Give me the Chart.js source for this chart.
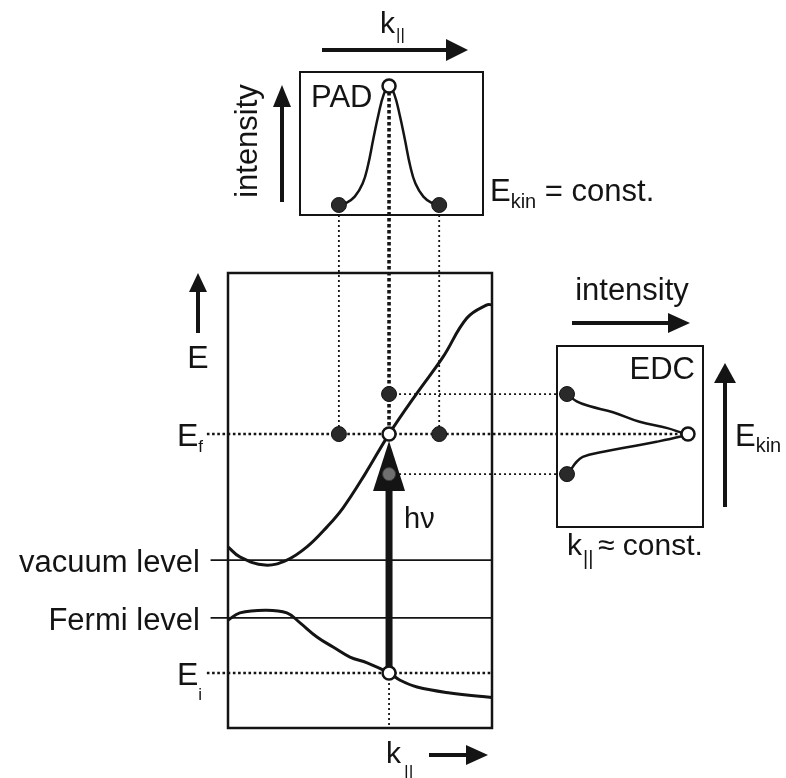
<!DOCTYPE html>
<html>
<head>
<meta charset="utf-8">
<title>ARPES: band structure, PAD and EDC</title>
<script src="https://cdn.jsdelivr.net/npm/chart.js@4.4.1/dist/chart.umd.min.js"></script>
<style>
  html, body { margin: 0; padding: 0; background: #fff; }
  canvas { display: block; }
</style>
</head>
<body>
<canvas id="arpes" width="786" height="778"></canvas>
<script>
// ---------------------------------------------------------------------------
// Band diagram, in panel units: k|| runs 0..10, E runs 0..10 across the frame
// ---------------------------------------------------------------------------
const upperBandK = [0, 0.45, 1.4, 2.23, 2.99, 3.75, 4.36, 5.19, 6.1, 7.16, 8.14, 9.05, 9.81, 10];
const upperBandE = [3.98, 3.76, 3.58, 3.69, 3.98, 4.42, 4.84, 5.58, 6.46, 7.36, 8.15, 9.01, 9.30, 9.30];

const lowerBandK = [0, 0.45, 1.4, 2.23, 2.73, 3.37, 3.98, 4.62, 5.27, 6.1, 6.52, 7.16, 8.41, 10];
const lowerBandE = [2.37, 2.53, 2.59, 2.53, 2.31, 2.00, 1.78, 1.56, 1.43, 1.21, 1.05, 0.90, 0.77, 0.67];

// reference levels drawn as solid lines
const levelNames = ['vacuum level', 'Fermi level'];
const levelE     = [3.69, 2.42];

// energies and momenta of the marked states
const E_final   = 6.46;   // E_f
const E_initial = 1.21;   // E_i
const E_above   = 7.34;   // neighbouring energy above E_f
const E_below   = 5.58;   // neighbouring energy below E_f
const kMarks    = [4.2, 6.1, 8.0];   // k|| of the three PAD samples
const k0        = 6.1;               // k|| of the direct transition

// ---------------------------------------------------------------------------
// PAD: intensity vs k|| at constant E_kin
// ---------------------------------------------------------------------------
const padK = [4.2, 4.5, 4.8, 5.1, 5.3, 5.5, 5.7, 5.9, 6.1, 6.3, 6.5, 6.7, 6.9, 7.1, 7.4, 7.7, 8.0];
const padI = [0, 0.02, 0.07, 0.18, 0.33, 0.55, 0.76, 0.93, 1, 0.93, 0.76, 0.55, 0.33, 0.18, 0.07, 0.02, 0];

// ---------------------------------------------------------------------------
// EDC: intensity vs E at constant k||
// ---------------------------------------------------------------------------
const edcE = [7.34, 7.18, 7.07, 6.94, 6.73, 6.59, 6.48, 6.46, 6.40, 6.29, 6.18, 6.07, 5.96, 5.82, 5.63, 5.58];
const edcI = [0, 0.08, 0.19, 0.38, 0.60, 0.83, 0.96, 1.0, 0.93, 0.74, 0.52, 0.30, 0.13, 0.07, 0.02, 0];

// ---------------------------------------------------------------------------
// Page layout (pixels)
// ---------------------------------------------------------------------------
const W = 786, H = 778;
const PANEL   = { left: 228, right: 492, top: 273, bottom: 728 };
const PAD_BOX = { left: 300, top: 72, right: 483, bottom: 215 };
const EDC_BOX = { left: 557, top: 346, right: 703, bottom: 527 };
const PAD_ROW  = { zero: 205, one: 86 };   // pixel rows of PAD intensity 0 and 1
const EDC_COL  = { zero: 567, one: 688 };  // pixel columns of EDC intensity 0 and 1
const GUIDE_START_K = -0.8;                // left end of the dotted E_f / E_i lines
const LEVEL_START_K = -0.66;               // left end of the level lines

const INK  = '#141414';
const DOT  = '#2a2a2a';
const FONT = '"Liberation Sans", Arial, Helvetica, sans-serif';

// linear map through two (pixel, value) pairs -> value at any pixel
const lin = (p0, v0, p1, v1) => p => v0 + (p - p0) * (v1 - v0) / (p1 - p0);
const kAt = lin(PANEL.left, 0, PANEL.right, 10);
const eAt = lin(PANEL.bottom, 0, PANEL.top, 10);
const iAt = lin(PAD_ROW.zero, 0, PAD_ROW.one, 1);
const jAt = lin(EDC_COL.zero, 0, EDC_COL.one, 1);

const pts = (xs, ys) => xs.map((x, i) => ({ x, y: ys[i] }));

// EDC split at its maximum into two halves, each ordered by rising intensity
const edcPeak = edcI.indexOf(Math.max(...edcI));
const edcUpper = pts(edcI.slice(0, edcPeak + 1), edcE.slice(0, edcPeak + 1));
const edcLower = pts(edcI.slice(edcPeak), edcE.slice(edcPeak)).reverse();

const curve = (label, data, xAxisID, yAxisID, width, order) => ({
  label, data, xAxisID, yAxisID, order,
  borderColor: INK, borderWidth: width, pointRadius: 0,
  tension: 0.4, fill: false
});
const marks = (label, data, xAxisID, yAxisID, open, order, role) => ({
  label, data, xAxisID, yAxisID, order, role, showLine: false,
  pointStyle: 'circle',
  pointRadius: open ? 6.5 : 7.5,
  pointBackgroundColor: open ? '#ffffff' : DOT,
  pointBorderColor: INK,
  pointBorderWidth: open ? 2.5 : 1
});

const datasets = [
  curve('upper band', pts(upperBandK, upperBandE), 'k', 'E', 3, 10),
  curve('lower band', pts(lowerBandK, lowerBandE), 'k', 'E', 3, 11),
  curve('PAD', pts(padK, padI), 'k', 'I', 2.5, 12),
  curve('EDC upper', edcUpper, 'J', 'E', 2.5, 13),
  curve('EDC lower', edcLower, 'J', 'E', 2.5, 14),
  ...levelE.map((e, i) => ({
    label: levelNames[i], xAxisID: 'k', yAxisID: 'E', order: 20 + i,
    data: [{ x: LEVEL_START_K, y: e }, { x: 10, y: e }],
    borderColor: INK, borderWidth: 1.6, pointRadius: 0, fill: false
  })),
  marks('band samples', [
    { x: kMarks[0], y: E_final }, { x: kMarks[2], y: E_final }, { x: k0, y: E_above }
  ], 'k', 'E', false, 6, 'aboveArrow'),
  marks('PAD samples', [{ x: kMarks[0], y: 0 }, { x: kMarks[2], y: 0 }], 'k', 'I', false, 5),
  marks('EDC samples', [{ x: 0, y: E_above }, { x: 0, y: E_below }], 'J', 'E', false, 5),
  marks('transition states', [{ x: k0, y: E_final }, { x: k0, y: E_initial }], 'k', 'E', true, 3),
  marks('PAD maximum', [{ x: k0, y: 1 }], 'k', 'I', true, 3),
  marks('EDC maximum', [{ x: 1, y: E_final }], 'J', 'E', true, 3),
  Object.assign(marks('state below E_f', [{ x: k0, y: E_below }], 'k', 'E', false, 1), {
    pointBackgroundColor: '#6f6f6f', pointBorderColor: '#3a3a3a', pointRadius: 6.5
  })
];

// ---------------------------------------------------------------------------
// drawing helpers
// ---------------------------------------------------------------------------
function text(ctx, str, x, y, size, align) {
  ctx.font = size + 'px ' + FONT;
  ctx.textAlign = align || 'left';
  ctx.textBaseline = 'alphabetic';
  ctx.fillText(str, x, y);
  return ctx.measureText(str).width;
}
function subscripted(ctx, x, y, main, sub, size, subSize, drop, gap) {
  const w = text(ctx, main, x, y, size);
  return w + (gap || 0) + text(ctx, sub, x + w + (gap || 0), y + drop, subSize);
}
function arrow(ctx, x1, y1, x2, y2, width, headLen, headHalf) {
  const a = Math.atan2(y2 - y1, x2 - x1), c = Math.cos(a), s = Math.sin(a);
  const bx = x2 - c * headLen, by = y2 - s * headLen;
  ctx.lineWidth = width;
  ctx.lineCap = 'butt';
  ctx.beginPath(); ctx.moveTo(x1, y1); ctx.lineTo(bx + c, by + s); ctx.stroke();
  ctx.beginPath();
  ctx.moveTo(x2, y2);
  ctx.lineTo(bx - s * headHalf, by + c * headHalf);
  ctx.lineTo(bx + s * headHalf, by - c * headHalf);
  ctx.closePath(); ctx.fill();
}
function dotted(ctx, x1, y1, x2, y2, width, dash) {
  ctx.save();
  ctx.lineWidth = width;
  ctx.setLineDash(dash);
  ctx.lineCap = 'butt';
  ctx.beginPath(); ctx.moveTo(x1, y1); ctx.lineTo(x2, y2); ctx.stroke();
  ctx.restore();
}

const THIN = [1.8, [2, 3]];
const MID  = [2.6, [2.6, 2.6]];
const BOLD = [3.6, [3.4, 2.6]];

const diagram = {
  id: 'diagram',
  beforeDatasetsDraw(chart) {
    const { ctx } = chart;
    const sk = v => chart.scales.k.getPixelForValue(v);
    const se = v => chart.scales.E.getPixelForValue(v);
    const si = v => chart.scales.I.getPixelForValue(v);
    const sj = v => chart.scales.J.getPixelForValue(v);
    ctx.save();
    ctx.strokeStyle = INK;
    // PAD samples projected down to E_f
    dotted(ctx, sk(kMarks[0]), si(0), sk(kMarks[0]), se(E_final), ...THIN);
    dotted(ctx, sk(kMarks[2]), si(0), sk(kMarks[2]), se(E_final), ...THIN);
    dotted(ctx, sk(k0), si(1), sk(k0), se(E_final), ...BOLD);
    dotted(ctx, sk(k0), se(E_initial), sk(k0), se(0), ...THIN);
    // energies carried across to the EDC
    dotted(ctx, sk(GUIDE_START_K), se(E_final), sj(1), se(E_final), ...MID);
    dotted(ctx, sk(k0), se(E_above), sj(0), se(E_above), ...THIN);
    dotted(ctx, sk(k0), se(E_below), sj(0), se(E_below), ...THIN);
    dotted(ctx, sk(GUIDE_START_K), se(E_initial), sk(10), se(E_initial), ...MID);
    ctx.restore();
  },
  beforeDatasetDraw(chart, args) {
    if (chart.data.datasets[args.index].role !== 'aboveArrow') return;
    // photon arrow h-nu from E_i up to E_f
    const { ctx } = chart;
    const x = chart.scales.k.getPixelForValue(k0);
    const yTip = chart.scales.E.getPixelForValue(E_final) + 7;
    const yStart = chart.scales.E.getPixelForValue(E_initial);
    ctx.save();
    ctx.strokeStyle = INK; ctx.fillStyle = INK;
    arrow(ctx, x, yStart, x, yTip, 7, 50, 16);
    ctx.restore();
  },
  afterDatasetsDraw(chart) {
    const { ctx } = chart;
    const sk = v => chart.scales.k.getPixelForValue(v);
    const se = v => chart.scales.E.getPixelForValue(v);
    ctx.save();
    ctx.strokeStyle = INK; ctx.fillStyle = INK;

    // frames
    ctx.lineWidth = 2.5;
    ctx.strokeRect(sk(0), se(10), sk(10) - sk(0), se(0) - se(10));
    ctx.lineWidth = 2;
    ctx.strokeRect(PAD_BOX.left, PAD_BOX.top, PAD_BOX.right - PAD_BOX.left, PAD_BOX.bottom - PAD_BOX.top);
    ctx.strokeRect(EDC_BOX.left, EDC_BOX.top, EDC_BOX.right - EDC_BOX.left, EDC_BOX.bottom - EDC_BOX.top);

    // ---- band diagram labels
    const labelRight = PANEL.left - 28;
    levelE.forEach((e, i) => text(ctx, levelNames[i], labelRight, se(e) + 12, 31, 'right'));
    subscripted(ctx, 177, se(E_final) + 12, 'E', 'f', 32, 17, 6, 0);
    subscripted(ctx, 177, se(E_initial) + 12, 'E', 'i', 32, 17, 15, 0);
    arrow(ctx, 198, 333, 198, 273, 4, 19, 9);
    text(ctx, 'E', 198, 368, 32, 'center');
    text(ctx, 'hν', 404, 528, 29);
    text(ctx, 'k', 386, 763, 30);
    text(ctx, '||', 404, 778, 18);
    arrow(ctx, 429, 755, 488, 755, 4, 22, 10);

    // ---- PAD labels
    text(ctx, 'k', 380, 33, 30);
    text(ctx, '||', 396, 40, 17);
    arrow(ctx, 322, 50, 468, 50, 4, 22, 11);
    text(ctx, 'PAD', 311, 107, 31);
    ctx.save();
    ctx.translate(257, 141);
    ctx.rotate(-Math.PI / 2);
    text(ctx, 'intensity', 0, 0, 31, 'center');
    ctx.restore();
    arrow(ctx, 282, 202, 282, 85, 4, 22, 9);
    let w = subscripted(ctx, 490, 201, 'E', 'kin', 31, 20, 7, 0);
    text(ctx, ' = const.', 490 + w, 201, 31);

    // ---- EDC labels
    text(ctx, 'intensity', 632, 300, 31, 'center');
    arrow(ctx, 572, 323, 690, 323, 4, 22, 10);
    text(ctx, 'EDC', 695, 379, 31, 'right');
    arrow(ctx, 725, 507, 725, 363, 4, 20, 11);
    subscripted(ctx, 735, 446, 'E', 'kin', 31, 20, 6, 0);
    text(ctx, 'k', 567, 555, 30);
    text(ctx, '||', 583, 565, 20);
    text(ctx, '≈ const.', 598, 555, 30);
    ctx.restore();
  }
};

const scaleOpt = (axis, min, max) => ({ type: 'linear', axis, min, max, display: false });

new Chart(document.getElementById('arpes'), {
  type: 'line',
  data: { datasets },
  options: {
    responsive: false,
    animation: false,
    devicePixelRatio: 1,
    events: [],
    layout: { padding: 0, autoPadding: false },
    plugins: { legend: { display: false }, tooltip: { enabled: false }, title: { display: false } },
    scales: {
      k: scaleOpt('x', kAt(0), kAt(W)),
      J: scaleOpt('x', jAt(0), jAt(W)),
      E: scaleOpt('y', eAt(H), eAt(0)),
      I: scaleOpt('y', iAt(H), iAt(0))
    }
  },
  plugins: [diagram]
});
</script>
</body>
</html>
